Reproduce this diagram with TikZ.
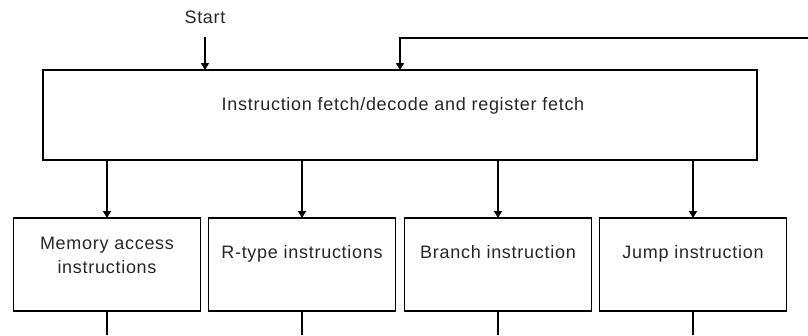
\documentclass[tikz,border=0pt]{standalone}
\usepackage{fontspec}
\setmainfont{Liberation Sans}[LetterSpace=4]
\usetikzlibrary{arrows.meta}
\begin{document}
\begin{tikzpicture}[x=1pt,y=-1pt,
  line width=1.3pt,
  box/.style={draw, rectangle, outer sep=0pt, inner sep=0pt},
  txt/.style={font=\fontsize{18}{24}\selectfont, align=center, inner sep=0pt, text=black!85},
  oneline/.style={txt, text height=13pt, text depth=4pt},
  flow/.style={-{Triangle[width=8pt,length=7pt]}}]
  \useasboundingbox (0,0) rectangle (808,335);

  % main fetch/decode block
  \node[box, minimum width=714pt, minimum height=90pt] (fetch) at (400,115) {};
  \node[oneline] (fetchtxt) at (403,106) {Instruction fetch/decode and register fetch};

  % entry point and return path
  \node[oneline] (start) at (205,19) {Start};
  \coordinate (startfrom) at (205,37);
  \coordinate (startto) at (205,70);
  \draw[flow] (startfrom) -- (startto);
  \coordinate (retin) at (808,38);
  \coordinate (retto) at (400,70);
  \draw[flow] (retin) -- (400,38) -- (retto);

  % instruction-class blocks
  \foreach \n/\x in {mem/107, rtype/302, branch/498, jump/693}{
    \node[box, minimum width=187pt, minimum height=93pt] (\n) at (\x,264.5) {};
    \coordinate (\n top) at (\x,160);
    \coordinate (\n out) at (\x,335);
    \draw[flow] (\n top) -- (\n.north);
    \draw (\n.south) -- (\n out);
  }
  \node[txt] (memtxt) at (107,255) {Memory access\\instructions};
  \node[oneline] (rtypetxt) at (302,254) {R-type instructions};
  \node[oneline] (branchtxt) at (498,254) {Branch instruction};
  \node[oneline] (jumptxt) at (693,254) {Jump instruction};
\end{tikzpicture}
\end{document}
